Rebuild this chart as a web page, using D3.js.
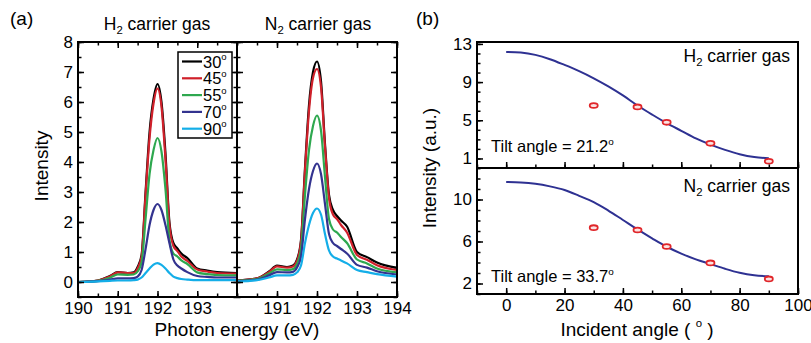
<!DOCTYPE html>
<html>
<head>
<meta charset="utf-8">
<script src="https://cdnjs.cloudflare.com/ajax/libs/d3/7.8.5/d3.min.js"></script>
<style>
body { margin: 0; background: #fff; }
text { font-family: "Liberation Sans", Arial, sans-serif; fill: #000; }
</style>
</head>
<body>
<div id="chart"></div>
<script>
// ---- data, panel (a): spectra ----
var energy = [190, 190.5, 190.8, 191, 191.25, 191.4, 191.5, 191.6, 191.7, 191.8, 191.9, 192, 192.1, 192.2, 192.3, 192.4, 192.5, 192.6, 192.75, 193, 193.25, 193.5, 194];
var angleLabels = ["30", "45", "55", "70", "90"];
var lineColors = ["#000000", "#d0202a", "#2ea84f", "#33338f", "#14aee8"];

var h2_30 = [0, 0.05, 0.2, 0.33, 0.3, 0.32, 0.5, 0.9, 3.0, 5.0, 6.1, 6.6, 6.0, 4.3, 2.0, 1.3, 1.12, 0.95, 0.8, 0.45, 0.38, 0.33, 0.3];
var h2_45 = [0, 0.05, 0.18, 0.32, 0.3, 0.3, 0.45, 0.85, 2.9, 4.8, 5.95, 6.45, 5.85, 4.1, 1.9, 1.2, 1.03, 0.85, 0.7, 0.42, 0.35, 0.3, 0.28];
var h2_55 = [0, 0.04, 0.14, 0.25, 0.24, 0.25, 0.35, 0.65, 2.1, 3.6, 4.4, 4.8, 4.35, 3.1, 1.4, 0.95, 0.85, 0.72, 0.6, 0.32, 0.26, 0.23, 0.22];
var h2_70 = [0, 0.03, 0.08, 0.12, 0.12, 0.13, 0.18, 0.4, 1.1, 1.9, 2.4, 2.6, 2.4, 1.9, 1.3, 0.75, 0.55, 0.45, 0.33, 0.2, 0.17, 0.15, 0.15];
var h2_90 = [0, 0.02, 0.04, 0.05, 0.05, 0.06, 0.08, 0.15, 0.3, 0.45, 0.58, 0.63, 0.57, 0.45, 0.3, 0.18, 0.13, 0.1, 0.08, 0.06, 0.06, 0.06, 0.06];

var n2_30 = [0.05, 0.12, 0.35, 0.55, 0.5, 0.55, 0.75, 1.4, 3.8, 5.9, 7.0, 7.35, 6.7, 4.6, 2.9, 2.4, 2.2, 2.05, 1.85, 1.0, 0.83, 0.65, 0.47];
var n2_45 = [0.05, 0.12, 0.33, 0.52, 0.48, 0.52, 0.7, 1.35, 3.7, 5.7, 6.8, 7.1, 6.5, 4.5, 2.8, 2.25, 2.1, 1.9, 1.65, 0.9, 0.74, 0.56, 0.4];
var n2_55 = [0.04, 0.1, 0.28, 0.42, 0.4, 0.43, 0.6, 1.1, 2.9, 4.4, 5.2, 5.55, 5.05, 3.5, 2.1, 1.75, 1.65, 1.5, 1.3, 0.75, 0.62, 0.45, 0.32];
var n2_70 = [0.03, 0.08, 0.22, 0.33, 0.32, 0.34, 0.48, 0.85, 2.1, 3.1, 3.7, 3.95, 3.6, 2.6, 1.6, 1.3, 1.2, 1.1, 0.95, 0.57, 0.48, 0.36, 0.25];
var n2_90 = [0.02, 0.06, 0.15, 0.22, 0.22, 0.24, 0.32, 0.55, 1.3, 1.9, 2.3, 2.45, 2.25, 1.6, 1.05, 0.85, 0.78, 0.72, 0.62, 0.4, 0.33, 0.26, 0.18];

var energyTicksLeft = [190, 191, 192, 193];
var energyTicksRight = [191, 192, 193, 194];
var intensityTicks = [0, 1, 2, 3, 4, 5, 6, 7, 8];

// ---- data, panel (b): angle dependence ----
var incidentAngles = [30, 45, 55, 70, 90];
var h2Points = [6.55, 6.4, 4.78, 2.58, 0.7];
var n2Points = [7.32, 7.1, 5.53, 3.96, 2.44];
var fitAngles = [0, 5, 10, 15, 20, 25, 30, 35, 40, 45, 50, 55, 60, 65, 70, 75, 80, 85, 90];
var h2Fit = [12.15, 12.1, 11.85, 11.4, 10.8, 10.15, 9.4, 8.55, 7.6, 6.55, 5.6, 4.7, 3.9, 3.1, 2.45, 1.9, 1.45, 1.15, 1.02];
var n2Fit = [11.67, 11.63, 11.5, 11.25, 10.9, 10.35, 9.75, 8.95, 8.05, 7.15, 6.3, 5.5, 4.85, 4.3, 3.85, 3.4, 3.02, 2.78, 2.68];
var angleTicks = [0, 20, 40, 60, 80, 100];
var h2Ticks = [1, 5, 9, 13];
var n2Ticks = [2, 6, 10];

var W = 811, H = 343;
var svg = d3.select("#chart").append("svg")
    .attr("width", W)
    .attr("height", H);

// draw inward ticks (major + minor), optional labels
function addAxis(maker, scale, tx, ty, majors, minors, labels) {
    var gMin = svg.append("g")
        .attr("transform", "translate(" + tx + "," + ty + ")")
        .call(maker(scale).tickValues(minors).tickSize(-3.5).tickSizeOuter(0).tickFormat(""));
    gMin.select(".domain").remove();
    gMin.selectAll("line").attr("stroke", "#000").attr("stroke-width", 1.5);
    var gMaj = svg.append("g")
        .attr("transform", "translate(" + tx + "," + ty + ")")
        .call(maker(scale).tickValues(majors).tickSize(-6).tickSizeOuter(0).tickPadding(5)
            .tickFormat(labels ? d3.format("d") : ""));
    gMaj.select(".domain").remove();
    gMaj.selectAll("line").attr("stroke", "#000").attr("stroke-width", 1.5);
    gMaj.attr("font-size", 17);
    return gMaj;
}

function range(a, b, step) {
    return d3.range(Math.round((b - a) / step) + 1).map(function(i) { return a + i * step; });
}

function subText(x, y, main, sub, rest, anchor, size) {
    var t = svg.append("text").attr("x", x).attr("y", y)
        .attr("font-size", size).attr("text-anchor", anchor || "start");
    t.append("tspan").text(main);
    t.append("tspan").attr("font-size", size * 0.65).attr("dy", 4).text(sub);
    t.append("tspan").attr("dy", -4).text(rest);
    return t;
}

function degText(x, y, before, after, anchor, size) {
    var t = svg.append("text").attr("x", x).attr("y", y)
        .attr("font-size", size).attr("text-anchor", anchor || "start");
    t.append("tspan").text(before);
    t.append("tspan").attr("font-size", size * 0.6).attr("dy", -size * 0.45).text("o");
    if (after) t.append("tspan").attr("dy", size * 0.45).text(after);
    return t;
}

// ================= panel (a) =================
var aTop = 42, aBottom = 297, aLeft = 78, aMid = 237, aRight = 397;
var xL = d3.scaleLinear().domain([190, 194]).range([aLeft, aMid]);
var xR = d3.scaleLinear().domain([190, 194]).range([aMid, aRight]);
var yA = d3.scaleLinear().domain([-0.5, 8]).range([aBottom, aTop]);

var eMinor = range(190, 194, 0.5);
var iMinor = range(-0.5, 8, 0.5);

var h2Curves = [h2_30, h2_45, h2_55, h2_70, h2_90];
var n2Curves = [n2_30, n2_45, n2_55, n2_70, n2_90];

function drawSpectra(curves, xs) {
    var line = d3.line()
        .x(function(d, i) { return xs(energy[i]); })
        .y(function(d) { return yA(d); })
        .curve(d3.curveMonotoneX);
    svg.append("g").selectAll("path")
        .data(curves)
        .enter().append("path")
            .attr("d", line)
            .attr("fill", "none")
            .attr("stroke", function(d, i) { return lineColors[i]; })
            .attr("stroke-width", 2.2)
            .attr("stroke-linejoin", "round");
}
drawSpectra(h2Curves, xL);
drawSpectra(n2Curves, xR);

// left plot axes
addAxis(d3.axisLeft, yA, aLeft, 0, intensityTicks, iMinor, true);
addAxis(d3.axisRight, yA, aMid, 0, intensityTicks, iMinor, false);
addAxis(d3.axisBottom, xL, 0, aBottom, energyTicksLeft, eMinor, true);
addAxis(d3.axisTop, xL, 0, aTop, energyTicksLeft, eMinor, false);
// right plot axes
addAxis(d3.axisLeft, yA, aMid, 0, intensityTicks, iMinor, false);
addAxis(d3.axisRight, yA, aRight, 0, intensityTicks, iMinor, false);
addAxis(d3.axisBottom, xR, 0, aBottom, energyTicksRight, eMinor, true);
addAxis(d3.axisTop, xR, 0, aTop, energyTicksRight, eMinor, false);

svg.append("rect").attr("x", aLeft).attr("y", aTop)
    .attr("width", aRight - aLeft).attr("height", aBottom - aTop)
    .attr("fill", "none").attr("stroke", "#000").attr("stroke-width", 2);
svg.append("line").attr("x1", aMid).attr("x2", aMid).attr("y1", aTop).attr("y2", aBottom)
    .attr("stroke", "#000").attr("stroke-width", 2);

// legend
var leg = svg.append("g").attr("transform", "translate(178,52)");
leg.append("rect").attr("width", 54).attr("height", 86)
    .attr("fill", "#fff").attr("stroke", "#000").attr("stroke-width", 1.5);
angleLabels.forEach(function(a, i) {
    var yy = 9.5 + i * 16.8;
    leg.append("line").attr("x1", 4).attr("x2", 24).attr("y1", yy).attr("y2", yy)
        .attr("stroke", lineColors[i]).attr("stroke-width", 2.2);
    var t = leg.append("text").attr("x", 25).attr("y", yy + 6).attr("font-size", 16.5);
    t.append("tspan").text(a);
    t.append("tspan").attr("font-size", 9.5).attr("dy", -7.5).text("o");
});

svg.append("text").attr("x", 10).attr("y", 25).attr("font-size", 19).text("(a)");
subText(157, 30, "H", "2", " carrier gas", "middle", 17.5);
subText(318, 30, "N", "2", " carrier gas", "middle", 17.5);
svg.append("text").attr("transform", "translate(48,166) rotate(-90)")
    .attr("text-anchor", "middle").attr("font-size", 19).text("Intensity");
svg.append("text").attr("x", 237).attr("y", 336)
    .attr("text-anchor", "middle").attr("font-size", 19).text("Photon energy (eV)");

// ================= panel (b) =================
var bLeft = 477, bRight = 798, bTop = 42, bMid = 168, bBottom = 294;
var xB = d3.scaleLinear().domain([-10, 100]).range([bLeft, bRight]);
var yTop = d3.scaleLinear().domain([0, 13.2]).range([bMid, bTop]);
var yBot = d3.scaleLinear().domain([1, 13]).range([bBottom, bMid]);

function drawFit(ys, fit, pts) {
    var line = d3.line()
        .x(function(d, i) { return xB(fitAngles[i]); })
        .y(function(d) { return ys(d); })
        .curve(d3.curveCatmullRom);
    svg.append("path").datum(fit)
        .attr("d", line)
        .attr("fill", "none")
        .attr("stroke", "#2e3192")
        .attr("stroke-width", 2);
    svg.append("g").selectAll("ellipse")
        .data(pts)
        .enter().append("ellipse")
            .attr("cx", function(d, i) { return xB(incidentAngles[i]); })
            .attr("cy", function(d) { return ys(d); })
            .attr("rx", 4)
            .attr("ry", 2.4)
            .attr("fill", "#fbe3e3")
            .attr("stroke", "#e0262a")
            .attr("stroke-width", 1.8);
}
drawFit(yTop, h2Fit, h2Points);
drawFit(yBot, n2Fit, n2Points);

var angMinor = range(-10, 100, 10);
addAxis(d3.axisLeft, yTop, bLeft, 0, h2Ticks, range(0, 13, 1), true);
addAxis(d3.axisBottom, xB, 0, bMid, angleTicks, angMinor, false);
addAxis(d3.axisLeft, yBot, bLeft, 0, n2Ticks, range(1, 13, 1), true);
addAxis(d3.axisBottom, xB, 0, bBottom, angleTicks, angMinor, true);

svg.append("rect").attr("x", bLeft).attr("y", bTop)
    .attr("width", bRight - bLeft).attr("height", bBottom - bTop)
    .attr("fill", "none").attr("stroke", "#000").attr("stroke-width", 2);
svg.append("line").attr("x1", bLeft).attr("x2", bRight).attr("y1", bMid).attr("y2", bMid)
    .attr("stroke", "#000").attr("stroke-width", 2);

svg.append("text").attr("x", 416).attr("y", 25).attr("font-size", 19).text("(b)");
subText(790, 62, "H", "2", " carrier gas", "end", 17.5);
subText(790, 192, "N", "2", " carrier gas", "end", 17.5);
degText(491, 152, "Tilt angle = 21.2", "", "start", 16.5);
degText(491, 282, "Tilt angle = 33.7", "", "start", 16.5);
svg.append("text").attr("transform", "translate(436,168) rotate(-90)")
    .attr("text-anchor", "middle").attr("font-size", 19).text("Intensity (a.u.)");
degText(637, 336, "Incident angle ( ", " )", "middle", 19);
</script>
</body>
</html>
